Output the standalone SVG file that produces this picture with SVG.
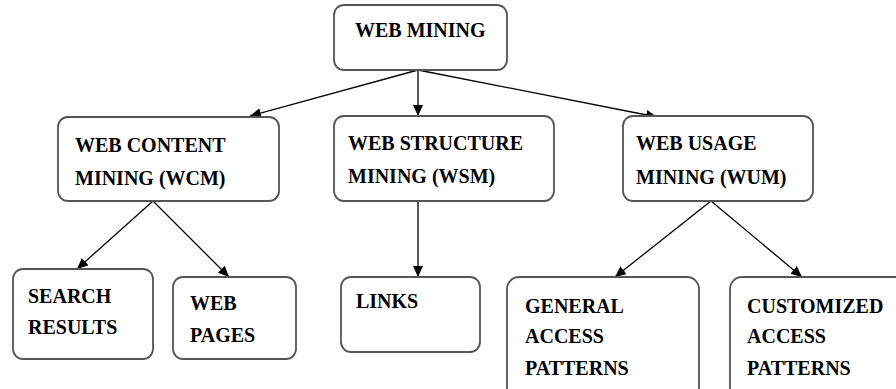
<svg xmlns="http://www.w3.org/2000/svg" width="896" height="389" viewBox="0 0 896 389">
<style>
.box{fill:#fff;stroke:#555;stroke-width:1.8}
.t{font-family:'Liberation Serif','Times New Roman','DejaVu Serif',serif;font-weight:700;font-size:20px;fill:#000}
.c{stroke:#000;stroke-width:1.3;fill:none;marker-end:url(#ah)}
</style>
<defs>
<marker id="ah" markerUnits="userSpaceOnUse" markerWidth="12" markerHeight="10" refX="11" refY="5" orient="auto">
<path d="M0,0 L11,5 L0,10 Z" fill="#000"/>
</marker>
</defs>
<rect width="896" height="389" fill="#fff"/>
<g id="connectors">
<line class="c" x1="418" y1="70" x2="250" y2="116"/>
<line class="c" x1="418" y1="70" x2="418" y2="116"/>
<line class="c" x1="418" y1="70" x2="657" y2="117"/>
<line class="c" x1="153" y1="201" x2="77" y2="269"/>
<line class="c" x1="153" y1="201" x2="229" y2="277"/>
<line class="c" x1="418" y1="201" x2="418" y2="277"/>
<line class="c" x1="711" y1="201" x2="615" y2="277"/>
<line class="c" x1="711" y1="201" x2="802" y2="277"/>
</g>
<g font-family="Liberation Serif, serif" font-weight="bold">
<g id="web-mining">
<rect class="box" x="334" y="5" width="173" height="65" rx="10"/>
<text class="t" x="355" y="37">WEB MINING</text>
</g>
<g id="wcm">
<rect class="box" x="58" y="117" width="221" height="84" rx="10"/>
<text class="t" x="75" y="152">WEB CONTENT</text>
<text class="t" x="75" y="185">MINING (WCM)</text>
</g>
<g id="wsm">
<rect class="box" x="334" y="116" width="220" height="85" rx="10"/>
<text class="t" x="348" y="150">WEB STRUCTURE</text>
<text class="t" x="348" y="183">MINING (WSM)</text>
</g>
<g id="wum">
<rect class="box" x="623" y="116" width="190" height="85" rx="10"/>
<text class="t" x="636" y="150">WEB USAGE</text>
<text class="t" x="636" y="184">MINING (WUM)</text>
</g>
<g id="search-results">
<rect class="box" x="13" y="269" width="140" height="90" rx="10"/>
<text class="t" x="28" y="303">SEARCH</text>
<text class="t" x="28" y="334">RESULTS</text>
</g>
<g id="web-pages">
<rect class="box" x="173" y="277" width="123" height="82" rx="10"/>
<text class="t" x="190" y="310">WEB</text>
<text class="t" x="190" y="342">PAGES</text>
</g>
<g id="links">
<rect class="box" x="341" y="277" width="139" height="75" rx="10"/>
<text class="t" x="356" y="308">LINKS</text>
</g>
<g id="general">
<rect class="box" x="507" y="277" width="192" height="125" rx="12"/>
<text class="t" x="525" y="313">GENERAL</text>
<text class="t" x="525" y="343">ACCESS</text>
<text class="t" x="525" y="375">PATTERNS</text>
</g>
<g id="customized">
<rect class="box" x="730" y="277" width="185" height="125" rx="12"/>
<text class="t" x="747" y="313">CUSTOMIZED</text>
<text class="t" x="747" y="343">ACCESS</text>
<text class="t" x="747" y="375">PATTERNS</text>
</g>
</g>
</svg>
